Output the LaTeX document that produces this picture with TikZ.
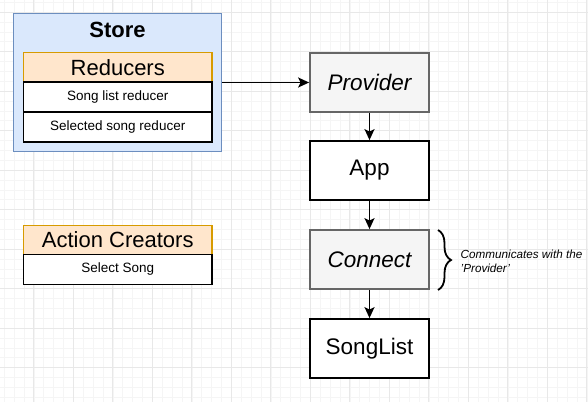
\documentclass[tikz,border=0pt]{standalone}
\usepackage{fontspec}
\setmainfont{Liberation Sans}
\usetikzlibrary{arrows.meta,decorations.pathreplacing}
\definecolor{storefill}{HTML}{DAE8FC}
\definecolor{storeline}{HTML}{6C8EBF}
\definecolor{redfill}{HTML}{FFE6CC}
\definecolor{redline}{HTML}{D79B00}
\definecolor{greyfill}{HTML}{F5F5F5}
\definecolor{greyline}{HTML}{666666}
\definecolor{gridminor}{HTML}{F5F5F5}
\definecolor{gridmajor}{HTML}{E8E8E8}
\tikzset{
  header/.style={draw=redline, fill=redfill, line width=1.3pt, minimum width=188.5pt, minimum height=29.5pt, inner sep=0pt, font=\fontsize{22}{24}\selectfont},
  item/.style={draw=black, fill=white, line width=1.6pt, minimum width=188.5pt, minimum height=30pt, inner sep=0pt, font=\fontsize{13.5}{15}\selectfont},
  comp/.style={draw=black, fill=white, line width=1.8pt, minimum width=119pt, minimum height=59pt, inner sep=0pt, font=\fontsize{22.5}{24}\selectfont},
  hoc/.style={comp, draw=greyline, fill=greyfill, font=\fontsize{22.5}{24}\selectfont\itshape},
  link/.style={line width=1.8pt, -{Stealth[length=11pt,width=10pt,inset=2.5pt]}},
}
\begin{document}
\begin{tikzpicture}[x=1pt,y=-1pt]
\useasboundingbox (0,0) rectangle (588,402);
\fill[white] (0,0) rectangle (588,402);
% grid
\foreach \i in {0,...,60} {
  \draw[gridminor, line width=0.6pt] ({4.2+9.875*\i},0) -- ({4.2+9.875*\i},402);
}
\foreach \i in {0,...,41} {
  \draw[gridminor, line width=0.6pt] (0,{2.25+9.875*\i}) -- (588,{2.25+9.875*\i});
}
\foreach \i in {0,...,15} {
  \draw[gridmajor, line width=0.8pt] ({33.8+39.5*\i},0) -- ({33.8+39.5*\i},402);
}
\foreach \i in {0,...,10} {
  \draw[gridmajor, line width=0.8pt] (0,{12+39.5*\i}) -- (588,{12+39.5*\i});
}
% store
\node[draw=storeline, fill=storefill, line width=1.3pt, minimum width=208pt, minimum height=138pt, inner sep=0pt] (store) at (117.5,82.5) {};
\node[font=\fontsize{22}{24}\selectfont\bfseries] (storelabel) at (117.5,30) {Store};
\node[header] (reducers) at (117.75,67.25) {Reducers};
\node[item] (songlistred) at (117.75,97) {Song list reducer};
\node[item] (selectedred) at (117.75,127) {Selected song reducer};
% action creators
\node[header] (actions) at (117.75,240) {Action Creators};
\node[item] (selectsong) at (117.75,269.5) {Select Song};
% right column
\node[hoc] (provider) at (369.5,82.5) {Provider};
\node[comp] (app) at (369.5,170.5) {App};
\node[hoc] (connect) at (369.5,259.5) {Connect};
\node[comp] (songlist) at (369.5,348.5) {SongList};
% connectors
\draw[link] (store.east) -- (provider.west);
\draw[link] (provider) -- (app);
\draw[link] (app) -- (connect);
\draw[link] (connect) -- (songlist);
% brace
\coordinate (bt) at (438,230);
\coordinate (bb) at (438,290);
\draw[line width=1.8pt, decorate, decoration={brace, amplitude=13pt}] (bt) -- (bb);
\node[anchor=west, align=left, inner sep=0pt, font=\fontsize{11.7}{14}\selectfont\itshape] (note) at (460.5,261) {Communicates with the\\'Provider'};
\end{tikzpicture}
\end{document}
